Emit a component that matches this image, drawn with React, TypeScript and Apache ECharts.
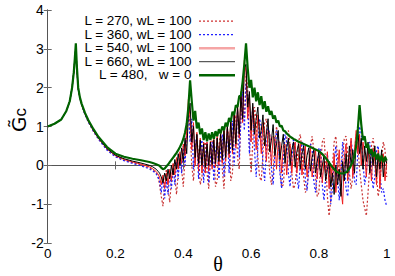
import React, { useEffect, useRef } from "react";
import * as echarts from "echarts";

// theta grid (smooth part, then the oscillating part)
const THETA_SMOOTH = [0, 0.02, 0.04, 0.055, 0.065, 0.072, 0.077, 0.08, 0.083, 0.086, 0.09, 0.095, 0.1, 0.11, 0.12, 0.135, 0.15, 0.175, 0.2, 0.225, 0.25, 0.275, 0.3, 0.31, 0.32, 0.325];
const THETA_OSC = [
  0.33, 0.335, 0.34, 0.345, 0.35, 0.355, 0.36, 0.365, 0.37, 0.375,
  0.38, 0.385, 0.39, 0.395, 0.4, 0.405, 0.41, 0.415, 0.42, 0.425,
  0.43, 0.435, 0.44, 0.445, 0.45, 0.455, 0.46, 0.465, 0.47, 0.475,
  0.48, 0.485, 0.49, 0.495, 0.5, 0.505, 0.51, 0.515, 0.52, 0.525,
  0.53, 0.535, 0.54, 0.545, 0.55, 0.555, 0.56, 0.565, 0.57, 0.575,
  0.58, 0.585, 0.59, 0.595, 0.6, 0.605, 0.61, 0.615, 0.62, 0.625,
  0.63, 0.635, 0.64, 0.645, 0.65, 0.655, 0.66, 0.665, 0.67, 0.675,
  0.68, 0.685, 0.69, 0.695, 0.7, 0.705, 0.71, 0.715, 0.72, 0.725,
  0.73, 0.735, 0.74, 0.745, 0.75, 0.755, 0.76, 0.765, 0.77, 0.775,
  0.78, 0.785, 0.79, 0.795, 0.8, 0.805, 0.81, 0.815, 0.82, 0.825,
  0.83, 0.835, 0.84, 0.845, 0.85, 0.855, 0.86, 0.865, 0.87, 0.875,
  0.88, 0.885, 0.89, 0.895, 0.9, 0.905, 0.91, 0.915, 0.92, 0.925,
  0.93, 0.935, 0.94, 0.945, 0.95, 0.955, 0.96, 0.965, 0.97, 0.975,
  0.98, 0.985, 0.99, 0.995, 1.0,
];

// L = 270, wL = 100
const L270_SMOOTH = [1.0, 1.07, 1.18, 1.4, 1.65, 2.0, 2.4, 2.72, 3.05, 2.5, 1.96, 1.72, 1.56, 1.31, 1.12, 0.88, 0.68, 0.41, 0.23, 0.13, 0.07, 0.01, -0.06, -0.12, -0.2, -0.28];
const L270_OSC = [
  -0.5, -0.8, -1.05, -0.5, -0.1, -0.6, -0.95, -0.4, 0.05, -0.3,
  -0.75, -0.2, 0.25, -0.1, -0.55, 0.2, 0.8, 1.5, 0.9, 0.0,
  -0.4, 0.3, 0.75, 0.2, -0.5, -0.3, 0.5, 0.6, -0.2, -0.6,
  0.1, 0.65, 0.4, -0.55, -0.4, 0.5, 0.8, -0.1, -0.6, 0.2,
  0.95, 0.7, -0.4, -0.2, 0.9, 1.3, 0.2, -0.1, 1.3, 2.0,
  1.2, 2.3, 2.0, 0.5, -0.2, 0.6, 1.5, 1.2, 0.2, -0.3,
  -0.4, 0.3, 1.1, 1.2, 0.5, -0.2, -0.5, -0.2, 0.6, 1.0,
  0.7, -0.1, -0.55, -0.5, 0.1, 0.7, 0.9, 0.5, -0.2, -0.6,
  -0.5, 0.0, 0.6, 0.8, 0.4, -0.3, -0.7, -0.6, -0.1, 0.5,
  0.75, 0.4, -0.3, -0.8, -0.7, 0.0, 0.6, 0.7, 0.1, -0.8,
  -1.3, -0.9, 0.0, 0.6, 0.75, 0.2, -0.4, -0.2, 0.3, 0.7,
  0.75, 0.3, -0.2, -0.6, -0.3, 0.3, 0.8, 0.5, -0.1, -0.5,
  -0.9, -1.1, -1.3, -0.7, 0.0, 0.5, 0.7, 0.3, -0.3, -0.8,
  -0.5, 0.2, 0.6, 0.4, -0.3,
];

// L = 360, wL = 100
const L360_SMOOTH = [1.0, 1.07, 1.18, 1.4, 1.65, 2.0, 2.4, 2.72, 3.05, 2.5, 1.96, 1.71, 1.55, 1.3, 1.11, 0.87, 0.67, 0.39, 0.22, 0.12, 0.05, -0.01, -0.09, -0.14, -0.22, -0.3];
const L360_OSC = [
  -0.4, -0.7, -0.3, -0.85, -0.4, -0.75, -0.2, -0.6, -0.05, -0.5,
  0.1, -0.35, 0.3, -0.2, 0.5, 0.0, 0.9, 1.4, 0.6, 1.2,
  -0.1, 0.5, 0.8, -0.35, 0.3, 0.65, -0.45, 0.2, 0.6, -0.45,
  0.2, 0.6, -0.4, 0.3, 0.7, -0.35, 0.35, 0.8, -0.3, 0.45,
  0.95, -0.2, 0.6, 1.15, 0.0, 0.8, 1.4, 0.2, 1.2, 1.9,
  0.9, 2.1, 1.6, 0.3, 1.0, 1.5, 0.4, -0.3, 0.5, 1.2,
  1.0, 0.0, -0.4, 0.4, 1.0, 0.8, -0.1, -0.5, 0.3, 0.9,
  0.7, -0.2, -0.6, 0.2, 0.8, 0.6, -0.2, -0.55, 0.1, 0.7,
  0.5, -0.3, -0.6, 0.0, 0.6, 0.5, -0.35, -0.65, -0.1, 0.55,
  0.45, -0.4, -0.7, -0.2, 0.45, 0.4, -0.5, -0.9, -0.3, 0.3,
  -0.2, -1.0, -0.6, 0.1, 0.5, -0.3, -0.9, -0.2, 0.6, 0.2,
  -0.6, -0.8, 0.0, 0.65, 0.3, -0.4, -0.5, 0.4, 1.0, 0.8,
  0.1, -0.5, -0.2, 0.5, 0.6, -0.1, -0.6, -0.3, 0.4, 0.5,
  -0.2, -0.7, -0.6, -0.9, -1.05,
];

// L = 540, wL = 100
const L540_SMOOTH = [1.0, 1.07, 1.18, 1.4, 1.65, 2.0, 2.4, 2.72, 3.05, 2.5, 1.97, 1.72, 1.56, 1.32, 1.13, 0.89, 0.69, 0.42, 0.25, 0.15, 0.09, 0.03, -0.04, -0.09, -0.16, -0.22];
const L540_OSC = [
  -0.3, -0.5, -0.25, -0.6, -0.2, -0.5, -0.1, -0.4, 0.05, -0.25,
  0.2, -0.1, 0.35, 0.05, 0.55, 0.25, 0.9, 1.7, 1.2, 0.4,
  1.1, 0.0, 0.85, -0.15, 0.7, -0.2, 0.6, -0.2, 0.6, -0.15,
  0.62, -0.1, 0.68, -0.05, 0.75, 0.0, 0.85, 0.05, 0.95, 0.1,
  1.05, 0.2, 1.2, 0.3, 1.35, 0.45, 1.55, 0.7, 1.9, 1.1,
  2.7, 2.4, 1.2, 1.8, 0.6, 1.5, 1.1, 0.4, 1.3, 1.0,
  0.3, 1.1, 0.9, 0.1, 0.9, 0.8, 0.0, 0.75, 0.7, -0.1,
  0.6, 0.6, -0.2, 0.5, 0.55, -0.25, 0.4, 0.55, -0.2, 0.3,
  0.6, -0.2, 0.2, 0.55, -0.25, 0.15, 0.5, -0.3, 0.1, 0.45,
  -0.3, 0.05, 0.4, -0.35, 0.2, 0.3, -0.45, 0.1, -0.2, 0.35,
  -0.6, 0.0, -0.4, 0.3, -0.7, -0.1, 0.4, -0.6, -1.0, 0.2,
  0.55, -0.4, 0.2, 0.7, -0.3, 0.4, 0.9, 0.3, 0.8, 0.0,
  0.6, 0.3, -0.3, 0.5, 0.2, -0.4, 0.45, 0.1, -0.5, 0.4,
  -0.6, 0.2, 0.3, -0.4, 0.1,
];

// L = 660, wL = 100
const L660_SMOOTH = [1.0, 1.07, 1.18, 1.4, 1.65, 2.0, 2.4, 2.72, 3.05, 2.5, 1.97, 1.73, 1.57, 1.33, 1.14, 0.9, 0.7, 0.43, 0.26, 0.17, 0.11, 0.06, 0.0, -0.04, -0.1, -0.15];
const L660_OSC = [
  -0.2, -0.3, -0.45, -0.2, -0.4, -0.1, -0.35, 0.0, -0.25, 0.15,
  -0.1, 0.3, 0.0, 0.45, 0.1, 0.7, 0.3, 1.3, 1.6, 0.6,
  1.0, 0.2, 0.8, 0.05, 0.65, 0.0, 0.55, -0.05, 0.55, 0.0,
  0.6, 0.02, 0.65, 0.05, 0.7, 0.1, 0.8, 0.15, 0.9, 0.2,
  1.0, 0.3, 1.15, 0.4, 1.3, 0.55, 1.5, 0.8, 1.8, 1.2,
  2.5, 2.6, 1.5, 1.9, 0.9, 1.6, 0.8, 1.2, 1.5, 0.7,
  0.9, 1.3, 0.5, 0.8, 1.2, 0.35, 0.65, 1.05, 0.25, 0.55,
  0.9, 0.15, 0.5, 0.8, 0.05, 0.45, 0.7, 0.0, 0.4, 0.6,
  -0.05, 0.35, 0.55, -0.1, 0.3, 0.5, -0.1, 0.25, 0.45, -0.15,
  0.2, 0.4, -0.2, 0.1, 0.35, -0.3, 0.0, 0.25, -0.4, -0.1,
  0.1, -0.55, -0.2, -0.75, 0.0, -0.5, -0.1, -0.8, 0.1, -0.4,
  0.3, -0.2, 0.5, 0.0, 0.4, -0.2, 0.6, 0.9, 0.3, 0.7,
  -0.1, 0.5, 0.1, 0.6, -0.2, 0.4, 0.0, 0.5, -0.3, 0.3,
  -0.1, 0.4, -0.3, 0.2, 0.05,
];

// L = 480, w = 0
const L480_SMOOTH = [1.0, 1.07, 1.18, 1.4, 1.65, 2.0, 2.4, 2.75, 3.14, 2.55, 2.0, 1.75, 1.59, 1.35, 1.16, 0.93, 0.73, 0.47, 0.3, 0.22, 0.17, 0.13, 0.085, 0.06, 0.03, 0.01];
const L480_OSC = [
  -0.01, -0.06, -0.1, -0.08, -0.03, 0.02, 0.08, 0.14, 0.2, 0.26,
  0.32, 0.39, 0.47, 0.56, 0.68, 0.84, 1.07, 1.5, 2.19, 1.65,
  1.15, 1.4, 0.95, 1.1, 0.8, 0.95, 0.65, 0.85, 0.62, 0.82,
  0.65, 0.85, 0.68, 0.88, 0.75, 0.93, 0.82, 1.0, 0.9, 1.1,
  1.0, 1.22, 1.12, 1.38, 1.3, 1.55, 1.5, 1.78, 1.8, 2.15,
  2.6, 3.14, 2.5, 2.0, 2.2, 1.75, 2.0, 1.65, 1.88, 1.55,
  1.78, 1.45, 1.65, 1.38, 1.52, 1.3, 1.4, 1.2, 1.28, 1.1,
  1.15, 1.0, 1.02, 0.9, 0.88, 0.82, 0.78, 0.74, 0.71, 0.68,
  0.66, 0.63, 0.61, 0.59, 0.57, 0.55, 0.53, 0.51, 0.49, 0.47,
  0.45, 0.43, 0.41, 0.39, 0.37, 0.33, 0.29, 0.24, 0.19, 0.13,
  0.07, 0.01, -0.05, -0.1, -0.15, -0.18, -0.2, -0.21, -0.21, -0.2,
  -0.18, -0.14, -0.08, 0.0, 0.1, 0.25, 0.5, 0.95, 1.55, 1.05,
  0.65, 0.75, 0.45, 0.55, 0.3, 0.42, 0.22, 0.35, 0.15, 0.3,
  0.1, 0.25, 0.08, 0.22, 0.12,
];

const X_TICKS = [0, 0.2, 0.4, 0.6, 0.8, 1];
const Y_TICKS = [-2, -1, 0, 1, 2, 3, 4];

const LEGEND_LABELS = [
  "L = 270, wL = 100",
  "L = 360, wL = 100",
  "L = 540, wL = 100",
  "L = 660, wL = 100",
  "L = 480,\u00a0\u00a0\u00a0w = 0",
];

const FONT = "'Liberation Sans', Arial, sans-serif";

function pairs(smooth: number[], osc: number[]) {
  const xs = THETA_SMOOTH.concat(THETA_OSC);
  const ys = smooth.concat(osc);
  return xs.map((x, i) => [x, ys[i]]);
}

export default function App() {
  const ref = useRef<HTMLDivElement>(null);
  useEffect(() => {
    if (!ref.current) return;
    const chart = echarts.init(ref.current, null, { renderer: "svg" });
    const axisLine = { show: true, lineStyle: { color: "#555", width: 1 } };
    const tick = { show: true, inside: true, length: 4, lineStyle: { color: "#666" } };
    const styles = [
      { color: "#c83232", width: 1.2, type: [2, 2] as any },
      { color: "#1e1eff", width: 1.2, type: [2, 2] as any },
      { color: "#f01e1e", width: 1, type: "solid" as any },
      { color: "#000000", width: 1, type: "solid" as any },
      { color: "#006400", width: 2.2, type: "solid" as any },
    ];
    const legendStyles = [
      { stroke: "#d03030", lineWidth: 1.2, lineDash: [2, 2] },
      { stroke: "#2020ff", lineWidth: 1.2, lineDash: [2, 2] },
      { stroke: "#f5a5a5", lineWidth: 2.5 },
      { stroke: "#333333", lineWidth: 1 },
      { stroke: "#006400", lineWidth: 2.5 },
    ];
    const data = [
      pairs(L270_SMOOTH, L270_OSC),
      pairs(L360_SMOOTH, L360_OSC),
      pairs(L540_SMOOTH, L540_OSC),
      pairs(L660_SMOOTH, L660_OSC),
      pairs(L480_SMOOTH, L480_OSC),
    ];
    const rowY = [20.7, 34.2, 47.7, 61.2, 74.7];
    const graphics: any[] = [];
    LEGEND_LABELS.forEach((lab, i) => {
      graphics.push({
        type: "text",
        x: 191.5,
        y: rowY[i],
        z: 100,
        style: { text: lab, fill: "#000", font: `13.5px ${FONT}`, textAlign: "right", textVerticalAlign: "middle" },
      });
      graphics.push({
        type: "line",
        z: 100,
        shape: { x1: 199, y1: rowY[i] + 0.5, x2: 235, y2: rowY[i] + 0.5 },
        style: legendStyles[i],
      });
    });
    graphics.push({
      type: "text",
      x: 218,
      y: 263.5,
      style: { text: "θ", fill: "#000", font: "20px 'Liberation Serif', 'DejaVu Serif', serif", textAlign: "center", textVerticalAlign: "middle" },
    });
    graphics.push({
      type: "text",
      x: 19,
      y: 120,
      rotation: Math.PI / 2,
      style: {
        text: "{g|G̃}{c|c}",
        fill: "#000",
        textAlign: "center",
        textVerticalAlign: "middle",
        rich: {
          g: { fontSize: 20, fontFamily: "'DejaVu Sans', sans-serif", fill: "#000" },
          c: { fontSize: 17, fontFamily: FONT, fill: "#000", verticalAlign: "bottom" },
        },
      },
    });

    chart.setOption({
      animation: false,
      grid: { left: 47.7, right: 8.3, top: 10, bottom: 33, containLabel: false },
      xAxis: [
        {
          type: "value", min: 0, max: 1, interval: 0.2, position: "bottom",
          axisLine, axisTick: tick, splitLine: { show: false },
          axisLabel: { color: "#000", fontSize: 13.5, fontFamily: FONT, margin: 3, formatter: (v: number) => (X_TICKS.includes(Math.round(v * 10) / 10) ? String(Math.round(v * 10) / 10) : "") },
        },
        {
          type: "value", min: 0, max: 1, interval: 0.2, position: "top",
          axisLine, axisTick: tick, splitLine: { show: false }, axisLabel: { show: false },
        },
      ],
      yAxis: [
        {
          type: "value", min: -2, max: 4, interval: 1, position: "left",
          axisLine, axisTick: tick, splitLine: { show: false },
          axisLabel: { color: "#000", fontSize: 14, fontFamily: FONT, margin: 4, formatter: (v: number) => (Y_TICKS.includes(v) ? String(v) : "") },
        },
        {
          type: "value", min: -2, max: 4, interval: 1, position: "right",
          axisLine, axisTick: tick, splitLine: { show: false }, axisLabel: { show: false },
        },
      ],
      series: data.map((d, i) => ({
        type: "line",
        name: LEGEND_LABELS[i],
        data: d,
        showSymbol: false,
        symbol: "none",
        clip: true,
        lineStyle: styles[i],
        z: 2 + i,
      })),
      graphic: graphics,
    });
    return () => chart.dispose();
  }, []);
  return <div ref={ref} style={{ width: 395, height: 276, position: "absolute", left: 0, top: 0 }} />;
}
